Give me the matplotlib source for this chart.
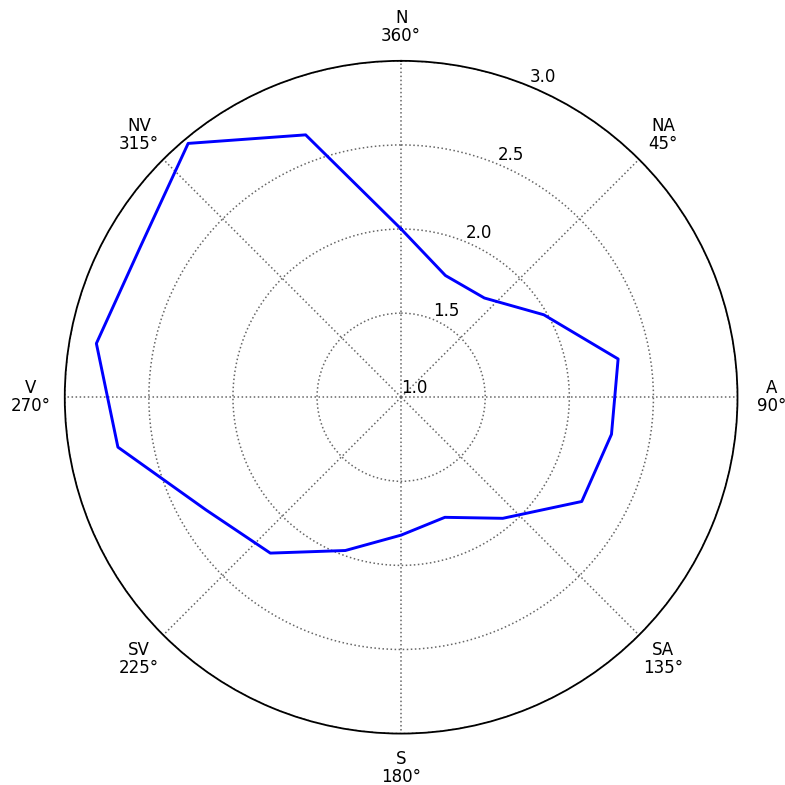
import numpy as np
import matplotlib
matplotlib.use("Agg")
import matplotlib.pyplot as plt

# direction in degrees (clockwise from north) and measured value
angles_deg = [0, 20, 40, 60, 80, 100, 120, 140, 160, 180,
              200, 220, 240, 260, 280, 300, 320, 340]
values = [2.00, 1.77, 1.77, 1.98, 2.31, 2.27, 2.24, 1.94, 1.76, 1.82,
          1.97, 2.21, 2.34, 2.71, 2.84, 2.79, 2.97, 2.66]

tick_deg = [0, 45, 90, 135, 180, 225, 270, 315]
tick_labels = ["N\n360°", "NA\n45°", "A\n90°", "SA\n135°",
               "S\n180°", "SV\n225°", "V\n270°", "NV\n315°"]
r_ticks = [1.0, 1.5, 2.0, 2.5, 3.0]

fig = plt.figure(figsize=(7.85, 7.85), dpi=100)
ax = fig.add_axes([0.0825, 0.0655, 0.857, 0.857], projection="polar")
ax.set_theta_zero_location("N")
ax.set_theta_direction(-1)

theta = np.deg2rad(angles_deg + [angles_deg[0]])
r = values + [values[0]]
ax.plot(theta, r, color="#0000ff", lw=2.1)

ax.set_rlim(1.0, 3.0)
ax.set_rticks(r_ticks)
ax.set_yticklabels(["%.1f" % v for v in r_ticks], fontsize=12)
ax.set_rlabel_position(22.5)
ax.set_xticks(np.deg2rad(tick_deg))
ax.set_xticklabels(tick_labels, fontsize=12, linespacing=1.0)
ax.tick_params(axis="x", pad=14)
ax.grid(True, color="0.4", ls=":", lw=1.1)
ax.spines["polar"].set_linewidth(1.3)

fig.savefig("out.png", dpi=100)
